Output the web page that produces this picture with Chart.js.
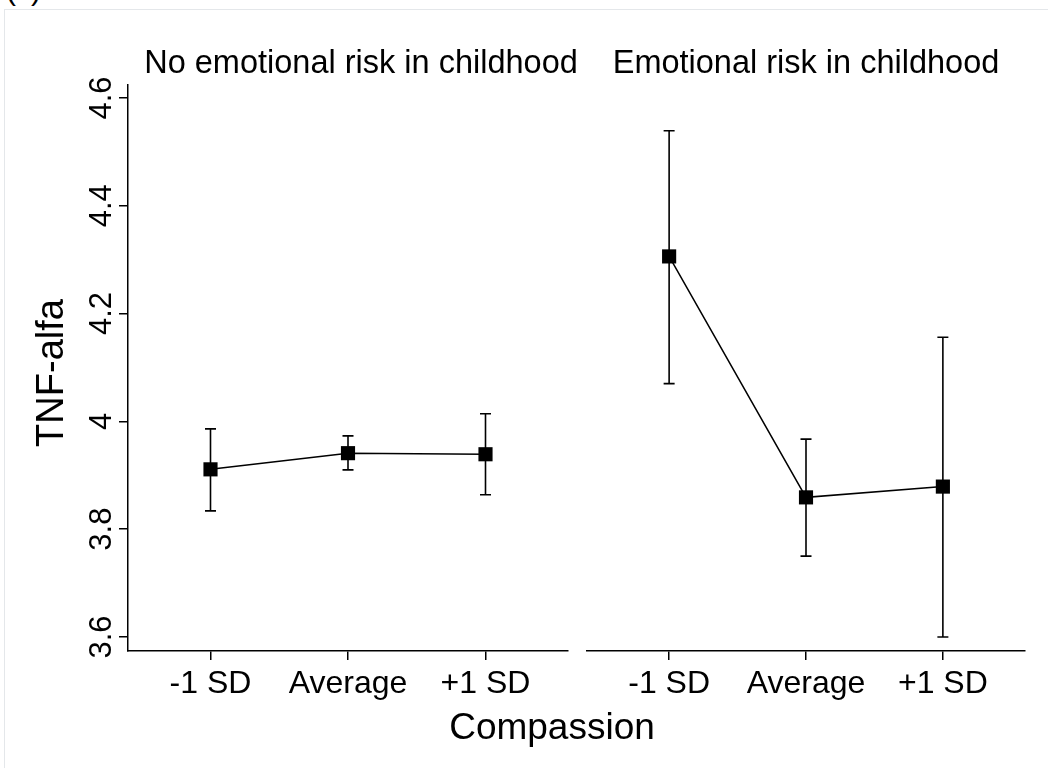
<!DOCTYPE html>
<html><head><meta charset="UTF-8">
<title>TNF-alfa by compassion</title>
<script src="https://cdn.jsdelivr.net/npm/chart.js"></script>
<style>
  body { margin: 0; background: #fff; font-family: 'Liberation Sans', Arial, sans-serif; }
  #wrap { position: relative; width: 1048px; height: 768px; overflow: hidden; background: #fff; }
  #frame { position: absolute; left: 4px; top: 9px; width: 1100px; height: 800px; border: 1px solid #e4e7ea; }
  #tag { position: absolute; left: 6px; top: -27px; font-size: 30px; color: #000; }
  canvas { position: absolute; left: 0; top: 0; }
</style>
</head>
<body>
<div id="wrap">
  <div id="frame"></div>
  <div id="tag">(c)</div>
  <canvas id="leftChart" width="1048" height="768"></canvas>
  <canvas id="rightChart" width="1048" height="768"></canvas>
</div>
<script>
const categories = ['-1 SD', 'Average', '+1 SD'];
const yTicks = [3.6, 3.8, 4, 4.2, 4.4, 4.6];

const noRiskMean = [3.911, 3.941, 3.939];
const noRiskLow  = [3.834, 3.910, 3.864];
const noRiskHigh = [3.986, 3.973, 4.014];

const riskMean = [4.306, 3.859, 3.879];
const riskLow  = [4.070, 3.750, 3.600];
const riskHigh = [4.539, 3.967, 4.156];

const FONT = "'Liberation Sans', Arial, sans-serif";

// error bars go under the square markers
const errorBars = {
  id: 'errorBars',
  beforeDatasetsDraw(chart, args, opts) {
    const ctx = chart.ctx, xs = chart.scales.x, ys = chart.scales.y;
    ctx.save();
    ctx.strokeStyle = '#000';
    ctx.lineWidth = 1.6;
    opts.low.forEach((lo, i) => {
      const x = xs.getPixelForValue(i);
      const y1 = ys.getPixelForValue(lo), y2 = ys.getPixelForValue(opts.high[i]);
      ctx.beginPath();
      ctx.moveTo(x, y1); ctx.lineTo(x, y2);
      ctx.moveTo(x - 5.5, y1); ctx.lineTo(x + 5.5, y1);
      ctx.moveTo(x - 5.5, y2); ctx.lineTo(x + 5.5, y2);
      ctx.stroke();
    });
    ctx.restore();
  }
};

const labels = {
  id: 'labels',
  afterDraw(chart, args, opts) {
    const ctx = chart.ctx;
    ctx.save();
    ctx.fillStyle = '#000';
    ctx.textAlign = 'center';
    ctx.textBaseline = 'alphabetic';
    ctx.font = '32.5px ' + FONT;
    ctx.fillText(opts.title, opts.titleX, 73);
    if (opts.yAxis) {
      const ys = chart.scales.y;
      ctx.font = '31px ' + FONT;
      yTicks.forEach(v => {
        ctx.save();
        ctx.translate(111, ys.getPixelForValue(v));
        ctx.rotate(-Math.PI / 2);
        ctx.fillText(String(v), 0, 0);
        ctx.restore();
      });
      ctx.font = '38px ' + FONT;
      ctx.save();
      ctx.translate(63, 373);
      ctx.rotate(-Math.PI / 2);
      ctx.fillText('TNF-alfa', 0, 0);
      ctx.restore();
      ctx.font = '37px ' + FONT;
      ctx.fillText('Compassion', 552, 739);
    }
    ctx.restore();
  }
};

function makePanel(id, mean, low, high, title, titleX, padding, showY) {
  return new Chart(document.getElementById(id), {
    type: 'line',
    data: {
      datasets: [{
        data: mean.map((v, i) => ({ x: i, y: v })),
        borderColor: '#000',
        borderWidth: 1.5,
        pointStyle: 'rect',
        pointRadius: 10,
        pointBackgroundColor: '#000',
        pointBorderWidth: 0,
        tension: 0
      }]
    },
    options: {
      responsive: false,
      animation: false,
      layout: { padding: padding },
      plugins: {
        legend: { display: false },
        tooltip: { enabled: false },
        errorBars: { low: low, high: high },
        labels: { title: title, titleX: titleX, yAxis: showY }
      },
      scales: {
        x: {
          type: 'linear',
          min: -0.6,
          max: 2.6,
          afterBuildTicks: s => { s.ticks = categories.map((c, i) => ({ value: i })); },
          ticks: {
            callback: v => categories[v],
            font: { size: 32, family: FONT },
            color: '#000',
            padding: 5,
            maxRotation: 0,
            autoSkip: false
          },
          grid: { drawOnChartArea: false, drawTicks: true, tickLength: 9, color: '#000', lineWidth: 1.5 },
          border: { display: true, color: '#000', width: 1.5 },
          afterFit: s => { s.height = 117; }
        },
        y: {
          display: showY,
          min: 3.574,
          max: 4.624,
          afterBuildTicks: s => { s.ticks = yTicks.map(v => ({ value: v })); },
          ticks: { display: false },
          grid: { drawOnChartArea: false, drawTicks: true, tickLength: 9, color: '#000', lineWidth: 1.5 },
          border: { display: true, color: '#000', width: 1.5 },
          afterFit: s => { s.width = showY ? 128 : 0; }
        }
      }
    },
    plugins: [errorBars, labels]
  });
}

makePanel('leftChart', noRiskMean, noRiskLow, noRiskHigh,
  'No emotional risk in childhood', 361, { top: 85, right: 480, left: 0, bottom: 0 }, true);
makePanel('rightChart', riskMean, riskLow, riskHigh,
  'Emotional risk in childhood', 806, { top: 85, right: 23, left: 587, bottom: 0 }, false);
</script>
</body></html>
